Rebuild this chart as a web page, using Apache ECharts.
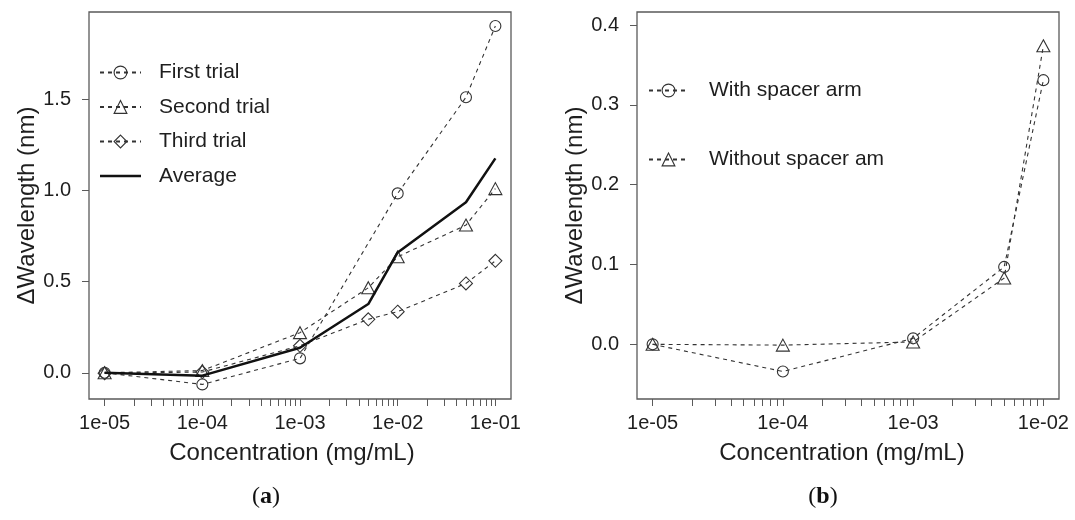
<!DOCTYPE html>
<html><head><meta charset="utf-8">
<script src="https://cdn.jsdelivr.net/npm/echarts@6/dist/echarts.min.js"></script>
<style>html,body{margin:0;padding:0;background:#fff}#c{width:1075px;height:520px}</style>
</head><body><div id="c"></div>
<script>
// ---- data (panel a) ----
const concA = [1e-5, 1e-4, 1e-3, 5e-3, 1e-2, 5e-2, 1e-1];
const firstTrial  = [0.000, -0.064, 0.079, null, 0.984, 1.511, 1.902];
const secondTrial = [0.000, 0.012, 0.220, 0.466, 0.636, 0.810, 1.010];
const thirdTrial  = [-0.003, 0.004, 0.148, 0.293, 0.335, 0.490, 0.614];
const averageA    = [0.000, -0.016, 0.137, 0.377, 0.660, 0.935, 1.176];
// ---- data (panel b) ----
const concB = [1e-5, 1e-4, 1e-3, 5e-3, 1e-2];
const withSpacer    = [0.000, -0.034, 0.0075, 0.097, 0.331];
const withoutSpacer = [0.000, -0.001, 0.003, 0.083, 0.374];
// ---- ticks ----
const xTickExpA = [-5, -4, -3, -2, -1];
const xTickExpB = [-5, -4, -3, -2];
const yTicksA = [0, 0.5, 1.0, 1.5];
const yTicksB = [0, 0.1, 0.2, 0.3, 0.4];
const legendA = ['First trial', 'Second trial', 'Third trial', 'Average'];
const legendB = ['With spacer arm', 'Without spacer am'];

const FONT = '"Liberation Sans", Arial, sans-serif';
const TXT = '#1e1e1e';
const AX = '#5a5a5a';
const LN = '#333333';

function pairs(xs, ys) {
  const out = [];
  xs.forEach((x, i) => { if (ys[i] !== null) out.push([Math.log10(x), ys[i]]); });
  return out;
}
function allTicks(exps) {
  const t = [];
  for (let i = 0; i < exps.length; i++) {
    t.push(exps[i]);
    if (i < exps.length - 1) for (let k = 2; k <= 9; k++) t.push(exps[i] + Math.log10(k));
  }
  return t;
}
function fmtExp(v) {
  const e = Math.round(v);
  const a = Math.abs(e);
  return '1e' + (e < 0 ? '-' : '+') + (a < 10 ? '0' + a : a);
}

function xAxis(gi, min, max, exps, padR) {
  return {
    type: 'value', gridIndex: gi, min: min, max: max, position: 'bottom',
    axisLine: {show: false, onZero: false}, splitLine: {show: false},
    axisTick: {show: true, length: 7, lineStyle: {color: AX, width: 1}, customValues: allTicks(exps)},
    axisLabel: {customValues: exps, formatter: fmtExp, margin: 14, fontSize: 20, color: TXT, fontFamily: FONT},
    name: 'Concentration (mg/mL)', nameLocation: 'middle', nameGap: 42,
    nameTextStyle: {fontSize: 24, color: TXT, fontFamily: FONT, padding: [0, padR, 0, 0]}
  };
}
function yAxis(gi, min, max, ticks, gap) {
  return {
    type: 'value', gridIndex: gi, min: min, max: max, position: 'left',
    axisLine: {show: false, onZero: false}, splitLine: {show: false},
    axisTick: {show: true, length: 7, lineStyle: {color: AX, width: 1}, customValues: ticks},
    axisLabel: {customValues: ticks, formatter: v => v.toFixed(1), margin: 18, fontSize: 20, color: TXT, fontFamily: FONT},
    name: 'ΔWavelength (nm)', nameLocation: 'middle', nameGap: gap,
    nameTextStyle: {fontSize: 24, color: TXT, fontFamily: FONT}
  };
}
function dashed(name, xi, data, symbol, size) {
  return {
    type: 'line', name: name, xAxisIndex: xi, yAxisIndex: xi, data: data,
    symbol: symbol, symbolSize: size, showSymbol: true, connectNulls: true,
    lineStyle: {color: LN, width: 1.1, type: [4, 4]},
    itemStyle: {color: 'rgba(0,0,0,0)', borderColor: LN, borderWidth: 1.1},
    emphasis: {disabled: true}, animation: false, z: 2
  };
}

const option = {
  backgroundColor: '#fff',
  animation: false,
  grid: [
    {left: 89, top: 12, width: 422, height: 387, show: true, borderColor: AX, borderWidth: 1.3, backgroundColor: 'rgba(0,0,0,0)'},
    {left: 637, top: 12, width: 422, height: 387, show: true, borderColor: AX, borderWidth: 1.3, backgroundColor: 'rgba(0,0,0,0)'}
  ],
  xAxis: [xAxis(0, -5.16, -0.84, xTickExpA, 16), xAxis(1, -5.12, -1.88, xTickExpB, 12)],
  yAxis: [yAxis(0, -0.144, 1.979, yTicksA, 42), yAxis(1, -0.0685, 0.4164, yTicksB, 45)],
  legend: [
    {
      show: true, orient: 'vertical', left: 99, top: 62, padding: 0, itemGap: 13.5,
      itemWidth: 41, itemHeight: 16, selectedMode: false,
      itemStyle: {borderWidth: 1.1},
      textStyle: {fontSize: 21, color: TXT, fontFamily: FONT, lineHeight: 21, padding: [0, 0, 0, 13]},
      data: [legendA[0], legendA[1], legendA[2],
             {name: legendA[3], icon: 'path://M0,0L41,0L41,2.4L0,2.4Z'}]
    },
    {
      show: true, orient: 'vertical', left: 648, top: 80, padding: 0, itemGap: 48,
      itemWidth: 39, itemHeight: 16, selectedMode: false,
      itemStyle: {borderWidth: 1.1},
      textStyle: {fontSize: 21, color: TXT, fontFamily: FONT, lineHeight: 21, padding: [0, 0, 0, 16]},
      data: legendB
    }
  ],
  series: [
    dashed(legendA[0], 0, pairs(concA, firstTrial), 'circle', 11),
    dashed(legendA[1], 0, pairs(concA, secondTrial), 'triangle', [13, 12]),
    dashed(legendA[2], 0, pairs(concA, thirdTrial), 'diamond', [13, 13]),
    {
      type: 'line', name: legendA[3], xAxisIndex: 0, yAxisIndex: 0, data: pairs(concA, averageA),
      symbol: 'none', lineStyle: {color: '#111', width: 2.5}, itemStyle: {color: '#111'},
      emphasis: {disabled: true}, z: 3
    },
    dashed(legendB[0], 1, pairs(concB, withSpacer), 'circle', 11),
    dashed(legendB[1], 1, pairs(concB, withoutSpacer), 'triangle', [13, 12])
  ],
  graphic: [
    {type: 'text', x: 266, y: 497, style: {
      text: '({a|a})', x: 0, y: 0, align: 'center', verticalAlign: 'middle',
      font: '24px "Liberation Serif", "DejaVu Serif", serif', fill: '#111',
      rich: {a: {fontWeight: 'bold', fontSize: 24, fontFamily: '"Liberation Serif", "DejaVu Serif", serif', fill: '#111'}}
    }},
    {type: 'text', x: 823, y: 497, style: {
      text: '({b|b})', x: 0, y: 0, align: 'center', verticalAlign: 'middle',
      font: '24px "Liberation Serif", "DejaVu Serif", serif', fill: '#111',
      rich: {b: {fontWeight: 'bold', fontSize: 24, fontFamily: '"Liberation Serif", "DejaVu Serif", serif', fill: '#111'}}
    }}
  ]
};
const chart = echarts.init(document.getElementById('c'), null, {renderer: 'canvas'});
chart.setOption(option);
</script>
</body></html>
